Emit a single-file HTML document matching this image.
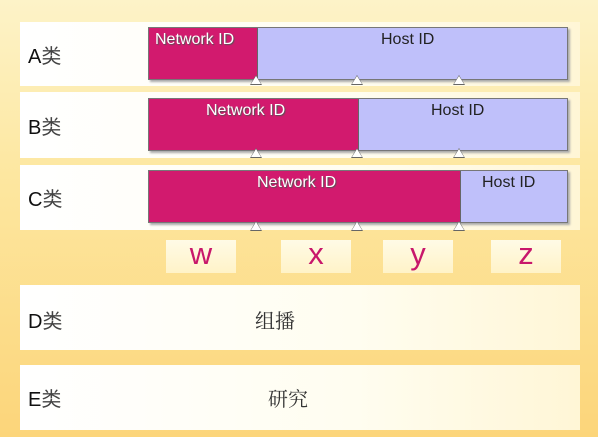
<!DOCTYPE html>
<html><head><meta charset="utf-8"><style>
body{margin:0;width:610px;height:442px;background:#fff;position:relative;overflow:hidden;font-family:"Liberation Sans","Noto Sans CJK SC",sans-serif}
.bg{position:absolute;left:0;top:0;width:598px;height:437px;background:linear-gradient(180deg,#fdf3c8 0%,#fde7a0 40%,#fcd57a 100%)}
.band{position:absolute;left:20px;width:560px;background:linear-gradient(90deg,#fff 0%,#fffdf0 60%,#fff6d6 100%)}
.lab{position:absolute;left:28px;font-size:20px;color:#111}
.lab span{color:#444;font-family:"Noto Sans CJK SC",sans-serif}
.bar{position:absolute;left:148px;width:420px;height:53px;background:#bfc0fa;border:1px solid #777;box-sizing:border-box;box-shadow:2px 2px 2px #aaa}
.net{position:absolute;left:0;top:0;bottom:0;background:#d21a6e;border-right:1px solid #666}
.t{position:absolute;color:#fff;font-size:16px;text-shadow:1px 1px 1px #555;top:3px;white-space:nowrap}
.h{position:absolute;color:#222;font-size:16px;top:3px;white-space:nowrap}
.tri{position:absolute;width:0;height:0;border-left:6px solid transparent;border-right:6px solid transparent;border-bottom:10px solid #666}
.tri:after{content:"";position:absolute;left:-5px;top:1px;border-left:5px solid transparent;border-right:5px solid transparent;border-bottom:8px solid #fff}
.box{position:absolute;top:240px;width:70px;height:33px;background:linear-gradient(180deg,#fffbe6,#fff3c8);color:#c8176b;font-size:31px;text-align:center;line-height:28px}
.cn{position:absolute;font-size:20px;color:#333;font-family:"Noto Serif CJK SC",serif}
</style></head><body>
<div class="bg"></div>
<div class="band" style="top:22px;height:64px"></div>
<div class="band" style="top:92px;height:66px"></div>
<div class="band" style="top:165px;height:65px"></div>
<div class="band" style="top:285px;height:65px"></div>
<div class="band" style="top:365px;height:65px"></div>
<div class="lab" style="top:40px">A<span>类</span></div>
<div class="lab" style="top:111px">B<span>类</span></div>
<div class="lab" style="top:183px">C<span>类</span></div>
<div class="lab" style="top:305px">D<span>类</span></div>
<div class="lab" style="top:383px">E<span>类</span></div>

<div class="bar" style="top:27px"><div class="net" style="width:108px"></div><div class="t" style="left:6px">Network ID</div><div class="h" style="left:232px">Host ID</div></div>
<div class="bar" style="top:98px"><div class="net" style="width:209px"></div><div class="t" style="left:57px">Network ID</div><div class="h" style="left:282px">Host ID</div></div>
<div class="bar" style="top:170px"><div class="net" style="width:311px"></div><div class="t" style="left:108px">Network ID</div><div class="h" style="left:333px">Host ID</div></div>

<div class="tri" style="left:250px;top:75px"></div><div class="tri" style="left:351px;top:75px"></div><div class="tri" style="left:453px;top:75px"></div>
<div class="tri" style="left:250px;top:148px"></div><div class="tri" style="left:351px;top:148px"></div><div class="tri" style="left:453px;top:148px"></div>
<div class="tri" style="left:250px;top:221px"></div><div class="tri" style="left:351px;top:221px"></div><div class="tri" style="left:453px;top:221px"></div>

<div class="box" style="left:166px">w</div>
<div class="box" style="left:281px">x</div>
<div class="box" style="left:383px">y</div>
<div class="box" style="left:491px">z</div>

<div class="cn" style="left:255px;top:305px">组播</div>
<div class="cn" style="left:268px;top:383px">研究</div>
</body></html>
